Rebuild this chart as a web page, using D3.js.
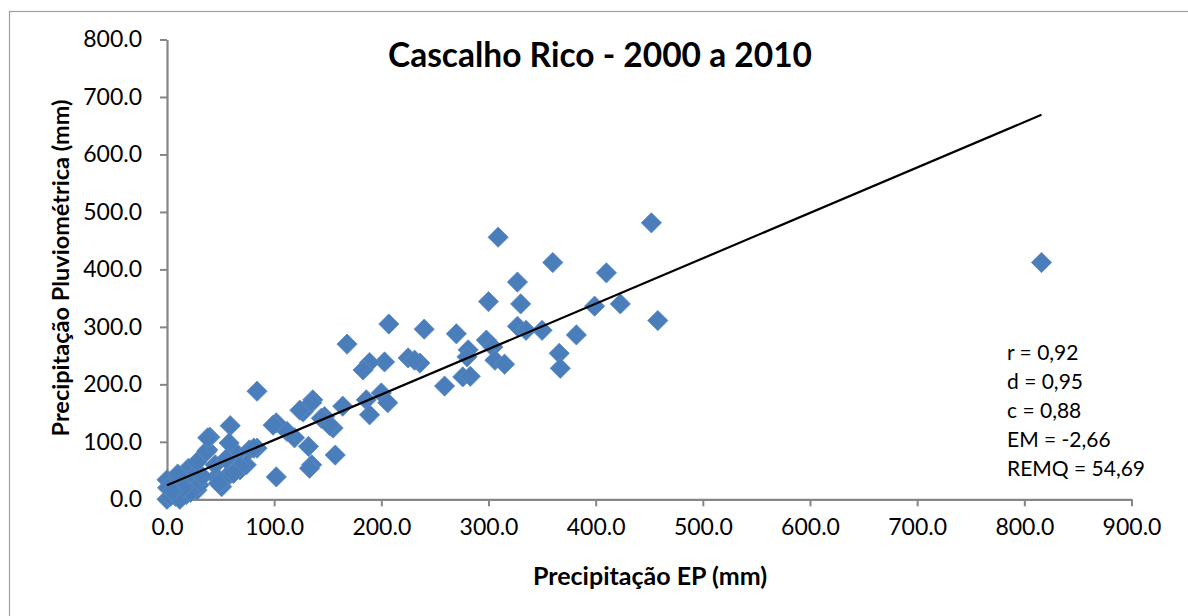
<!DOCTYPE html>
<html>
<head>
<meta charset="utf-8">
<script src="https://cdn.jsdelivr.net/npm/d3@7"></script>
<style>
  html, body { margin: 0; padding: 0; background: #fff; }
  svg { display: block; }
  text { font-family: Lato, "Open Sans", sans-serif; fill: #000; }
</style>
</head>
<body>
<svg id="chart" width="1188" height="616"></svg>
<script>
// ---- data ----
const title = "Cascalho Rico - 2000 a 2010";
const xLabel = "Precipitação EP (mm)";
const yLabel = "Precipitação Pluviométrica (mm)";
const xTicks = [0, 100, 200, 300, 400, 500, 600, 700, 800, 900];
const yTicks = [0, 100, 200, 300, 400, 500, 600, 700, 800];

// EP precipitation (x) and gauge precipitation (y), mm
const epValues = [
  452, 309, 360, 410, 327, 300, 330, 423, 399, 458,
  207, 240, 350, 327, 335, 270, 382, 298, 168, 304,
  281, 280, 366, 225, 236, 231, 203, 189, 183, 306,
  315, 367, 276, 283, 259, 84, 200, 206, 186, 189,
  164, 136, 127, 147, 155, 102, 112, 119, 132, 157,
  135, 124, 135, 144, 152, 99, 102, 133,
  59, 40, 38, 62, 65, 77, 84, 68, 74, 59,
  51, 46, 28, 20, 24, 12, 0, 0.5, 0, 8,
  18, 3, 12, 37, 81, 38, 68, 52, 28, 58,
  62, 45, 30, 22, 15, 5, 10, 33, 48, 55,
  816
];
const pluvValues = [
  481, 456, 412, 394, 378, 344, 340, 340, 336, 311,
  305, 296, 294, 301, 294, 288, 286, 277, 270, 265,
  260, 248, 254, 246, 237, 242, 239, 238, 225, 242,
  235, 228, 213, 214, 197, 188, 185, 168, 173, 147,
  162, 173, 152, 144, 124, 133, 118, 107, 92, 77,
  60, 155, 168, 141, 128, 129, 39, 54,
  128, 108, 86, 72, 80, 86, 89, 51, 60, 46,
  22, 39, 16, 54, 39, 31, 34, 20, 0, 5,
  8, 5, 0, 83, 89, 107, 57, 31, 65, 98,
  45, 60, 25, 12, 20, 14, 44, 40, 28, 70,
  412
];

// linear trend line (start and end values)
const trendX = [0, 816];
const trendY = [24.3, 668.9];

const statLines = ["r = 0,92", "d = 0,95", "c = 0,88", "EM = -2,66", "REMQ = 54,69"];

// ---- drawing ----
const svg = d3.select("#chart");
const axisColor = "#868686";
const markerColor = "#4a7ebb";

// outer chart border (only left/top visible in the frame)
svg.append("rect")
  .attr("x", 9.5).attr("y", 11.5)
  .attr("width", 1300).attr("height", 700)
  .attr("fill", "none").attr("stroke", "#a0a0a0").attr("stroke-width", 1.2);

const x = d3.scaleLinear().domain([0, 900]).range([167, 1131.5]);
const y = d3.scaleLinear().domain([0, 800]).range([499.3, 39.5]);

const fmt = d => d3.format(".1f")(d);

// x axis
const gx = svg.append("g").attr("transform", `translate(0,${y(0)})`)
  .call(d3.axisBottom(x).tickValues(xTicks).tickSize(7).tickSizeOuter(0).tickPadding(8).tickFormat(fmt));
// y axis
const gy = svg.append("g").attr("transform", `translate(${x(0)},0)`)
  .call(d3.axisLeft(y).tickValues(yTicks).tickSize(7).tickSizeOuter(0).tickPadding(18).tickFormat(fmt));

[gx, gy].forEach(g => {
  g.select(".domain").attr("stroke", axisColor).attr("stroke-width", 2.2);
  g.selectAll(".tick line").attr("stroke", axisColor).attr("stroke-width", 2);
  g.selectAll(".tick text").attr("font-size", 23).attr("fill", "#000")
    .style("font-family", "Lato, 'Open Sans', sans-serif");
});
gx.selectAll(".tick text").attr("dy", "0.9em");

// points (diamonds = squares rotated 45°)
const pts = epValues.map((v, i) => ({ ep: v, pl: pluvValues[i] }));
const sym = d3.symbol().type(d3.symbolSquare).size(205);
svg.append("g").selectAll("path").data(pts).join("path")
  .attr("d", sym)
  .attr("transform", d => `translate(${x(d.ep)},${y(d.pl)}) rotate(45)`)
  .attr("fill", markerColor)
  .attr("stroke", "#5b8bc4").attr("stroke-width", 0.8);

// trend line
svg.append("line")
  .attr("x1", x(trendX[0])).attr("y1", y(trendY[0]))
  .attr("x2", x(trendX[1])).attr("y2", y(trendY[1]))
  .attr("stroke", "#000").attr("stroke-width", 2.2);

// title
svg.append("text").attr("x", 600).attr("y", 67)
  .attr("text-anchor", "middle").attr("font-size", 33.5).attr("font-weight", "bold")
  .text(title);

// axis titles
svg.append("text").attr("x", 650).attr("y", 585)
  .attr("text-anchor", "middle").attr("font-size", 25).attr("font-weight", "bold")
  .text(xLabel);
svg.append("text").attr("transform", "translate(69,268) rotate(-90)")
  .attr("text-anchor", "middle").attr("font-size", 23.5).attr("font-weight", "bold")
  .text(yLabel);

// statistics
svg.append("g").selectAll("text").data(statLines).join("text")
  .attr("x", 1007).attr("y", (d, i) => 360 + i * 29)
  .attr("font-size", 21)
  .text(d => d);
</script>
</body>
</html>
